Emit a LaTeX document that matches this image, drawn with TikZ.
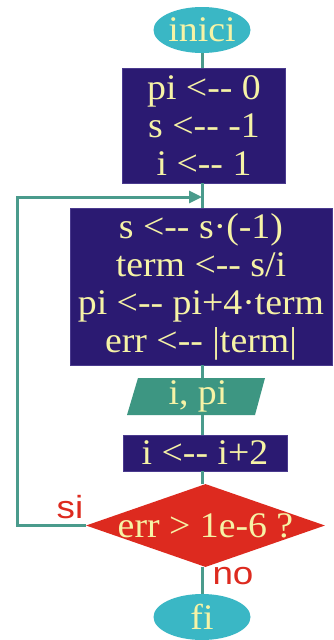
\documentclass[tikz,border=0pt]{standalone}
\usepackage{fontspec}
\setmainfont{Liberation Serif}
\newfontfamily\fserif{Liberation Serif}[FakeStretch=1.05]
\newfontfamily\fsans{Liberation Sans}[FakeStretch=1.15]
\usetikzlibrary{shapes.geometric,arrows.meta}
\definecolor{cyanc}{HTML}{3AB7C5}
\definecolor{navy}{HTML}{2B1A72}
\definecolor{navyb}{HTML}{4A3A8E}
\definecolor{tealc}{HTML}{4A9B8C}
\definecolor{tealf}{HTML}{3D9682}
\definecolor{redc}{HTML}{DD2A1F}
\definecolor{txt}{HTML}{F6F3A6}
\newcommand\asg{<-\kern0pt-}
\begin{document}
\begin{tikzpicture}[x=1pt,y=-1pt,
  txtfont/.style={font=\fserif\fontsize{36}{38}\selectfont, text=txt},
  term/.style={ellipse, fill=cyanc, minimum width=97pt, minimum height=46pt, inner sep=0pt, txtfont},
  proc/.style={rectangle, fill=navy, draw=navyb, line width=0.8pt, inner sep=0pt, align=center, txtfont},
  dec/.style={diamond, fill=redc, aspect=2.88, minimum width=239pt, minimum height=83pt, inner sep=0pt},
  flow/.style={draw=tealc, line width=3pt},
  lbl/.style={text=redc, font=\fsans\fontsize{32}{36}\selectfont, inner sep=0pt}]
\useasboundingbox (0,0) rectangle (334,640);
\fill[white] (0,0) rectangle (334,640);
% nodes
\node[term] (inici) at (202,30) {inici};
\node[proc, minimum width=163pt, minimum height=115pt] (b1) at (204,125.5)
  {pi \asg{} 0\\ s \asg{} -1\\ i \asg{} 1};
\coordinate (join) at (202,197);
\node[proc, minimum width=262pt, minimum height=157pt] (b2) at (201,286.5)
  {s \asg{} s·(-1)\\ term \asg{} s/i\\ pi \asg{} pi+4·term\\ err \asg{} |term|};
\fill[tealf] (127,415) -- (138,378) -- (265,378) -- (255,415) -- cycle;
\node[inner sep=0pt, minimum width=126pt, minimum height=37pt, txtfont] (io) at (198,396.5) {i, pi};
\node[proc, minimum width=164pt, minimum height=36pt] (b3) at (205,453) {i \asg{} i+2};
\node[dec] (d) at (205.5,525.5) {};
\node[txtfont, inner sep=0pt] (dt) at (d.center) {err > 1e-6 ?};
\node[term] (fi) at (202,617) {fi};
\coordinate (corner) at (17,525.5);
% connectors
\draw[flow] (inici.south) -- (inici.south |- b1.north);
\draw[flow] (join |- b1.south) -- (join |- b2.north);
\draw[flow] (join |- b2.south) -- (join |- io.north);
\draw[flow] (join |- io.south) -- (join |- b3.north);
\draw[flow] (join |- b3.south) -- (join |- d.north);
\draw[flow] (join |- d.south) -- (join |- fi.north);
\draw[flow, -{Triangle[length=13pt,width=12pt]}] (d.west) -- (corner) |- (join);
% labels
\node[lbl] (si) at (70,507) {si};
\node[lbl] (no) at (233,576) {no};
\end{tikzpicture}
\end{document}
